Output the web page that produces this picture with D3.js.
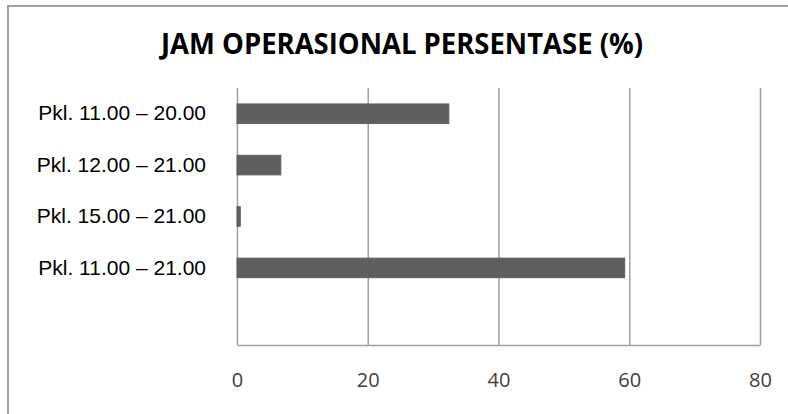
<html><head>
  <script src="https://d3js.org/d3.v7.min.js"></script>
  <style>
    body { margin: 0; background: #fff; }
    .gridlines line { stroke: #a0a0a0; stroke-width: 1.5; }
    .gridlines path { stroke: #a0a0a0; stroke-width: 1.5; }
    .xlabels text { font-family: 'Open Sans', sans-serif; font-size: 20px; fill: #404040; }
    .ylabels text { font-family: 'Liberation Sans', Arial, sans-serif; font-size: 21px; fill: #000; }
  </style>
</head>
<body>
  <script>
    // Categories (top to bottom), last one is the empty row
    const categories = ["Pkl. 11.00 – 20.00", "Pkl. 12.00 – 21.00", "Pkl. 15.00 – 21.00", "Pkl. 11.00 – 21.00", ""]
    const values = [32.4, 6.7, 0.5, 59.3, 0]
    const xTicks = [0, 20, 40, 60, 80]
    const title = "JAM OPERASIONAL PERSENTASE (%)"

    const svg = d3.select("body").append("svg")
                  .attr("width", 788)
                  .attr("height", 414)

    // outer frame (only top and left edges visible)
    svg.append("path")
       .attr("d", "M8,414 L8,6 L788,6")
       .attr("fill", "none")
       .attr("stroke", "#a0a0a0")
       .attr("stroke-width", 2)

    svg.append("text")
       .text(title)
       .attr("x", 402)
       .attr("y", 54)
       .attr("text-anchor", "middle")
       .attr("textLength", 482)
       .attr("lengthAdjust", "spacingAndGlyphs")
       .style("font-family", "'Open Sans', sans-serif")
       .style("font-weight", "bold")
       .style("font-size", "28px")
       .style("fill", "#000")

    const plot = {left: 237, right: 760, top: 88, bottom: 345}

    const xScale = d3.scaleLinear().domain([0, 80]).range([plot.left, plot.right])
    const yScale = d3.scaleBand().domain(categories)
                     .range([plot.top, plot.bottom])
                     .paddingInner(0.62).paddingOuter(0.31)

    // vertical gridlines + bottom line
    const grid = d3.axisBottom(xScale).tickValues(xTicks)
                   .tickSize(-(plot.bottom - plot.top)).tickSizeOuter(0).tickFormat("")
    svg.append("g").attr("class", "gridlines")
       .attr("transform", `translate(0,${plot.bottom})`)
       .call(grid)

    // x tick labels
    const xLabels = d3.axisBottom(xScale).tickValues(xTicks).tickSize(0).tickPadding(28)
    svg.append("g").attr("class", "xlabels")
       .attr("transform", `translate(0,${plot.bottom})`)
       .call(xLabels)
       .call(g => g.select(".domain").remove())

    // category labels
    const yLabels = d3.axisLeft(yScale).tickSize(0).tickPadding(31)
    svg.append("g").attr("class", "ylabels")
       .attr("transform", `translate(${plot.left},0)`)
       .call(yLabels)
       .call(g => g.select(".domain").remove())

    // bars
    svg.selectAll("rect.bar").data(categories)
       .join("rect")
       .attr("class", "bar")
       .attr("x", xScale(0))
       .attr("y", d => yScale(d))
       .attr("width", (d, i) => xScale(values[i]) - xScale(0))
       .attr("height", yScale.bandwidth())
       .style("fill", "#5f5f5f")
       .style("stroke", "#5f5f5f")
       .style("stroke-width", 1)
  </script>
</body></html>
